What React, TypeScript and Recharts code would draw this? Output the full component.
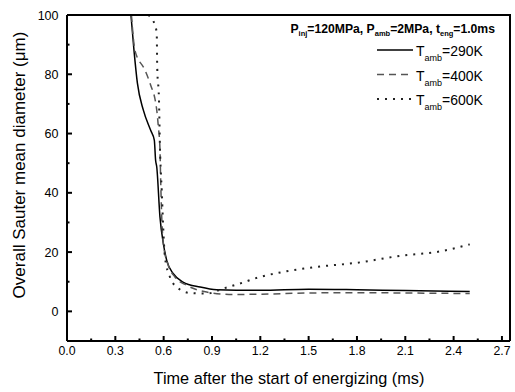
import React from "react";
import { LineChart, Line, XAxis, YAxis } from "recharts";

// Overall SMD vs time, three ambient temperatures
const t290 = [0.397, 0.416, 0.437, 0.474, 0.52, 0.542, 0.55, 0.557, 0.577, 0.598, 0.619, 0.66, 0.72, 0.826, 0.929, 1.2, 1.5, 1.8, 2.1, 2.5];
const d290 = [100, 88, 77, 67.9, 61, 57.8, 51, 48.8, 31.9, 22.9, 17.2, 12.7, 9.9, 8.2, 7.3, 7.1, 7.5, 7.3, 7.0, 6.7];

const t400 = [0.4, 0.422, 0.484, 0.515, 0.557, 0.567, 0.577, 0.581, 0.588, 0.598, 0.629, 0.67, 0.743, 0.867, 1.03, 1.2, 1.5, 1.8, 2.1, 2.5];
const d400 = [100, 88, 81.4, 77, 68, 62.3, 55, 45.4, 31.9, 23, 15.5, 11.6, 8.8, 6.5, 5.7, 5.8, 6.2, 6.3, 6.2, 6.0];

const t600 = [0.505, 0.546, 0.557, 0.56, 0.571, 0.577, 0.588, 0.598, 0.608, 0.639, 0.681, 0.764, 0.867, 0.97, 1.074, 1.198, 1.34, 1.55, 1.8, 2.09, 2.29, 2.5];
const d600 = [100, 96.6, 93.8, 82.5, 71.3, 55.5, 40.9, 27.4, 18.3, 11.6, 8.2, 6.2, 6.0, 7.7, 9.4, 11.6, 13.3, 15.0, 16.4, 18.9, 20.0, 22.6];

const xTicks = [0, 0.15, 0.3, 0.45, 0.6, 0.75, 0.9, 1.05, 1.2, 1.35, 1.5, 1.65, 1.8, 1.95, 2.1, 2.25, 2.4, 2.55, 2.7];
const yTicks = [0, 10, 20, 30, 40, 50, 60, 70, 80, 90, 100];

const toRows = (xs: number[], ys: number[]) => xs.map((x, i) => ({ x, y: ys[i] }));

const FONT = "'Liberation Sans', Arial, sans-serif";

// plot box (matches chart margins / axis sizes below)
const PLOT = { left: 67, top: 15, width: 443, height: 326 };

const XTick = (props: any) => {
  const { x, y, payload } = props;
  const v = payload.value;
  const major = Math.abs(v / 0.3 - Math.round(v / 0.3)) < 1e-6;
  return (
    <g>
      <line x1={x} y1={y} x2={x} y2={y - (major ? 5 : 2.5)} stroke="#000" strokeWidth={2} />
      {major && (
        <text x={x} y={y + 14} textAnchor="middle" fontSize={12.3} fontFamily={FONT} fill="#000">
          {v.toFixed(1)}
        </text>
      )}
    </g>
  );
};

const YTick = (props: any) => {
  const { x, y, payload } = props;
  const v = payload.value;
  const major = v % 20 === 0;
  return (
    <g>
      <line x1={x} y1={y} x2={x + (major ? 5 : 2.5)} y2={y} stroke="#000" strokeWidth={2} />
      {major && (
        <text x={x - 8.5} y={y + 4.5} textAnchor="end" fontSize={12.5} fontFamily={FONT} fill="#000">
          {v}
        </text>
      )}
    </g>
  );
};

const legendItems = [
  { label: "290K", stroke: "#000", dash: undefined, width: 1.5 },
  { label: "400K", stroke: "#555", dash: "7 5", width: 1.5 },
  { label: "600K", stroke: "#222", dash: "2 6", width: 2 },
];

export default function App() {
  return (
    <div style={{ position: "absolute", left: 0, top: 0, width: 515, height: 392, background: "#fff" }}>
      <LineChart width={515} height={392} margin={{ top: 15, right: 5, bottom: 0, left: 0 }}>
        <XAxis
          type="number"
          dataKey="x"
          domain={[0, 2.75]}
          ticks={xTicks}
          interval={0}
          height={51}
          tickSize={0}
          tickMargin={0}
          tickLine={false}
          tick={<XTick />}
          axisLine={{ stroke: "#000", strokeWidth: 2 }}
        />
        <YAxis
          type="number"
          domain={[-10, 100]}
          ticks={yTicks}
          interval={0}
          width={67}
          tickSize={0}
          tickMargin={0}
          tickLine={false}
          tick={<YTick />}
          allowDataOverflow
          axisLine={{ stroke: "#000", strokeWidth: 2 }}
        />
        <Line data={toRows(t290, d290)} dataKey="y" type="monotone" stroke="#000" strokeWidth={1.5} dot={false} isAnimationActive={false} />
        <Line data={toRows(t400, d400)} dataKey="y" type="monotone" stroke="#555" strokeWidth={1.5} strokeDasharray="7 5" dot={false} isAnimationActive={false} />
        <Line data={toRows(t600, d600)} dataKey="y" type="monotone" stroke="#222" strokeWidth={2} strokeDasharray="2 6" dot={false} isAnimationActive={false} />
      </LineChart>
      <svg width={515} height={392} style={{ position: "absolute", left: 0, top: 0, pointerEvents: "none" }} fontFamily={FONT}>
        {/* top and right frame edges */}
        <polyline
          points={`${PLOT.left},${PLOT.top} ${PLOT.left + PLOT.width},${PLOT.top} ${PLOT.left + PLOT.width},${PLOT.top + PLOT.height}`}
          fill="none"
          stroke="#000"
          strokeWidth={2}
        />
        <text x={289} y={384} textAnchor="middle" fontSize={16.3} fill="#000">
          Time after the start of energizing (ms)
        </text>
        <text transform="translate(25,165) rotate(-90)" textAnchor="middle" fontSize={17} fill="#000">
          Overall Sauter mean diameter (μm)
        </text>
        <text x={495} y={33} textAnchor="end" fontSize={12.2} fontWeight="bold" fill="#000">
          P<tspan fontSize={7.5} dy={3}>inj</tspan>
          <tspan dy={-3}>=120MPa, P</tspan>
          <tspan fontSize={7.5} dy={3}>amb</tspan>
          <tspan dy={-3}>=2MPa, t</tspan>
          <tspan fontSize={7.5} dy={3}>eng</tspan>
          <tspan dy={-3}>=1.0ms</tspan>
        </text>
        {legendItems.map((it, i) => {
          const cy = 50 + i * 24.5;
          return (
            <g key={it.label}>
              <line x1={377} y1={cy} x2={413} y2={cy} stroke={it.stroke} strokeWidth={it.width} strokeDasharray={it.dash} />
              <text x={416} y={cy + 6} fontSize={14} fill="#000">
                T<tspan fontSize={9} dy={5}>amb</tspan>
                <tspan dy={-5}>={it.label}</tspan>
              </text>
            </g>
          );
        })}
      </svg>
    </div>
  );
}
